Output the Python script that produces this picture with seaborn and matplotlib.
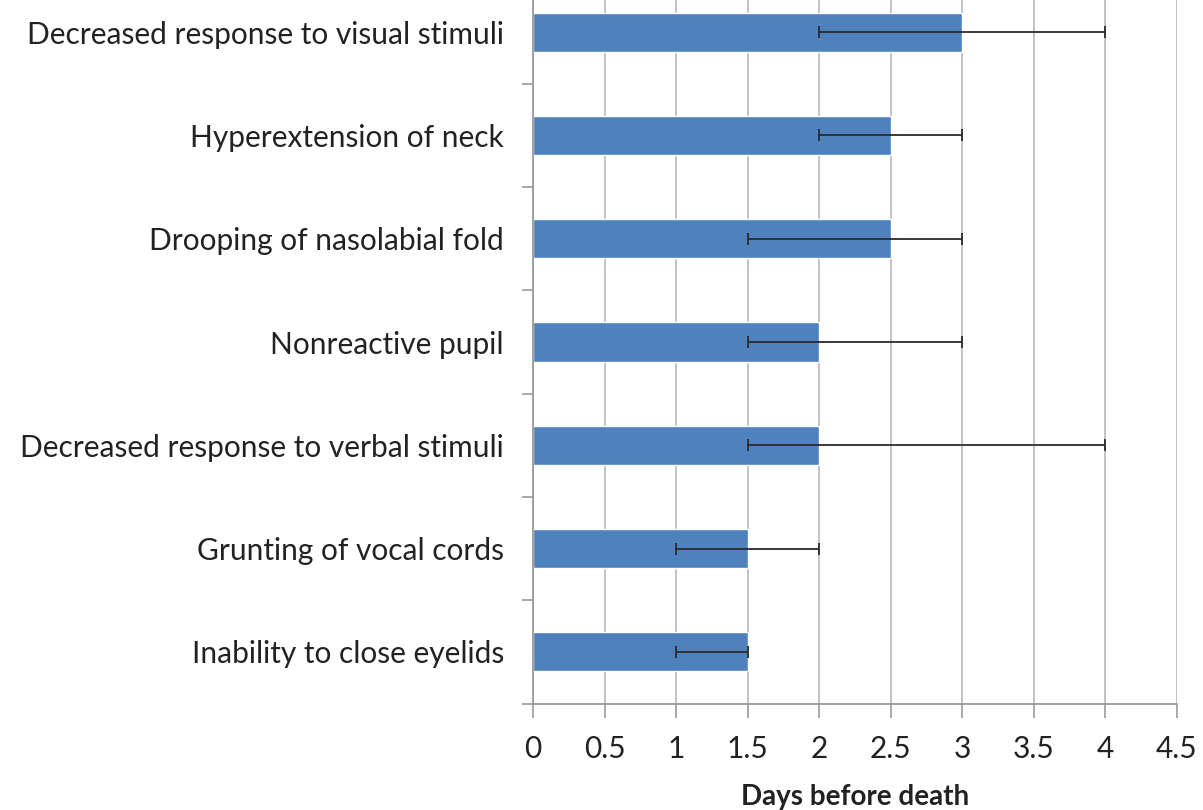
import matplotlib
matplotlib.use("Agg")
import matplotlib.pyplot as plt
import seaborn as sns
import pandas as pd
import numpy as np

signs = [
    "Decreased response to visual stimuli",
    "Hyperextension of neck",
    "Drooping of nasolabial fold",
    "Nonreactive pupil",
    "Decreased response to verbal stimuli",
    "Grunting of vocal cords",
    "Inability to close eyelids",
]
days = [3, 2.5, 2.5, 2, 2, 1.5, 1.5]
low = [2, 2, 1.5, 1.5, 1.5, 1, 1]
high = [4, 3, 3, 3, 4, 2, 1.5]

df = pd.DataFrame({"sign": signs, "days": days, "low": low, "high": high})

sns.set_style("white")
plt.rcParams["font.family"] = ["Lato", "DejaVu Sans"]

fig = plt.figure(figsize=(12.03, 8.1), dpi=100)
ax = fig.add_axes([533 / 1203, 1 - 703.5 / 810, (1177 - 533) / 1203, 723 / 810])

sns.barplot(data=df, x="days", y="sign", orient="h", color="#4F81BD",
            saturation=1, width=0.38, errorbar=None, ax=ax, zorder=2)

pos = np.arange(len(df))
ax.errorbar(df["days"], pos,
            xerr=[df["days"] - df["low"], df["high"] - df["days"]],
            fmt="none", ecolor="#2b2b2b", elinewidth=1.3, capsize=4,
            capthick=1.3, zorder=3)

ax.set_xlim(0, 4.5)
ax.set_ylim(len(df) - 0.5, -0.5)
ax.set_xticks(np.arange(0, 4.51, 0.5))
ax.set_xticklabels(["0", "0.5", "1", "1.5", "2", "2.5", "3", "3.5", "4", "4.5"])
ax.xaxis.grid(True, color="#bdbdbd", linewidth=1.3, zorder=0)
ax.set_axisbelow(True)

# category labels at bar centres, tick marks at the boundaries
ax.set_yticks(pos)
ax.set_yticklabels(signs)
ax.set_yticks(np.arange(-0.5, len(df) + 0.5, 1), minor=True)
ax.tick_params(axis="y", which="major", length=0, pad=21, labelsize=21.5,
               labelcolor="#222222")
ax.tick_params(axis="y", which="minor", length=8, width=1.2, color="#999999",
               direction="out", left=True)
ax.tick_params(axis="x", length=10, width=1.2, color="#999999", direction="out",
               bottom=True, labelsize=21.5, labelcolor="#222222", pad=13)

for side in ["top", "right"]:
    ax.spines[side].set_visible(False)
for side in ["left", "bottom"]:
    ax.spines[side].set_color("#999999")
    ax.spines[side].set_linewidth(1.3)

ax.set_ylabel("")
ax.set_xlabel("Days before death", fontsize=20, fontweight="bold",
              color="#222222", labelpad=15)

fig.savefig("out.png", dpi=100)
